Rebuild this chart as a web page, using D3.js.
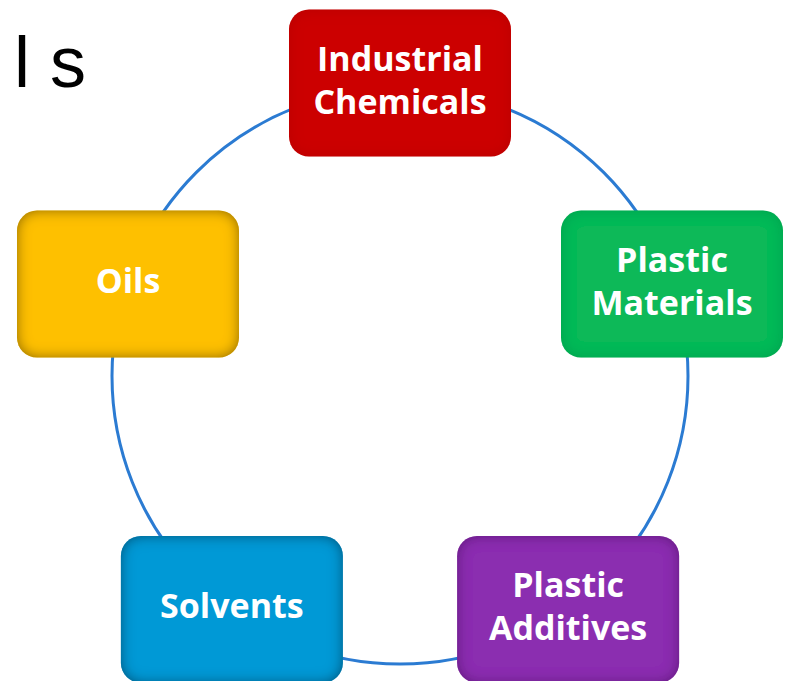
<!DOCTYPE html>
<html>
<head>
<meta charset="utf-8">
<script src="https://cdn.jsdelivr.net/npm/d3@7"></script>
<style>
  html, body { margin: 0; padding: 0; background: #ffffff; }
  svg { display: block; }
</style>
</head>
<body>
<svg id="chart" width="786" height="681"></svg>
<script>
// ---- data ----
const categories = ["Industrial Chemicals", "Plastic Materials", "Plastic Additives", "Solvents", "Oils"];
const labelLines = [["Industrial", "Chemicals"], ["Plastic", "Materials"], ["Plastic", "Additives"], ["Solvents"], ["Oils"]];
const colors = ["#cc0000", "#0bb959", "#8b2db0", "#0399d6", "#fec000"];
const edgeColors = ["#8a0000", "#077a3a", "#3e1052", "#023e5c", "#6a4e00"];
const edgeStrength = [0.35, 0.45, 0.75, 1, 1];
const titleText = "l s";

// ---- layout ----
const svg = d3.select("#chart");
const cx = 400, cy = 376, ringR = 288;
const boxCy = 374, boxRx = 286, boxRy = 291;
const boxW = 222, boxH = 147;

const angle = d3.scaleLinear().domain([0, categories.length]).range([-Math.PI / 2, 1.5 * Math.PI]);

const defs = svg.append("defs");
categories.forEach((c, i) => {
  const f = defs.append("filter").attr("id", "inner" + i)
    .attr("filterUnits", "userSpaceOnUse")
    .attr("x", -boxW).attr("y", -boxH).attr("width", boxW * 2).attr("height", boxH * 2);
  f.append("feFlood").attr("flood-color", edgeColors[i]).attr("flood-opacity", edgeStrength[i]);
  f.append("feComposite").attr("in2", "SourceAlpha").attr("operator", "out").attr("result", "outside");
  f.append("feGaussianBlur").attr("in", "outside").attr("stdDeviation", 7).attr("result", "blur");
  f.append("feComposite").attr("in", "blur").attr("in2", "SourceAlpha").attr("operator", "in").attr("result", "shadow");
  const m = f.append("feMerge");
  m.append("feMergeNode").attr("in", "SourceGraphic");
  m.append("feMergeNode").attr("in", "shadow");
});

// title fragment
svg.append("text")
  .attr("x", 14).attr("y", 87)
  .attr("font-family", "'Liberation Sans', Arial, sans-serif")
  .attr("font-size", 72)
  .attr("fill", "#000")
  .text(titleText);

// ring
svg.append("circle")
  .attr("cx", cx).attr("cy", cy).attr("r", ringR)
  .attr("fill", "none")
  .attr("stroke", "#2b7bd2")
  .attr("stroke-width", 3);

// boxes
const g = svg.selectAll("g.node").data(categories).join("g")
  .attr("class", "node")
  .attr("transform", (d, i) => {
    const a = angle(i);
    return `translate(${cx + boxRx * Math.cos(a)},${boxCy + boxRy * Math.sin(a)})`;
  });

g.append("rect")
  .attr("x", -boxW / 2).attr("y", -boxH / 2)
  .attr("width", boxW).attr("height", boxH)
  .attr("rx", 20).attr("ry", 20)
  .attr("fill", (d, i) => colors[i])
  .attr("filter", (d, i) => `url(#inner${i})`);

g.each(function(d, i) {
  const lines = labelLines[i];
  const lh = 43;
  const t = d3.select(this).append("text")
    .attr("text-anchor", "middle")
    .attr("font-family", "'Open Sans', Lato, sans-serif")
    .attr("font-weight", "bold")
    .attr("font-size", 34)
    .style("font-variant-ligatures", "none")
    .attr("fill", "#ffffff");
  lines.forEach((ln, k) => {
    t.append("tspan")
      .attr("x", 0)
      .attr("y", (k - (lines.length - 1) / 2) * lh + 9)
      .text(ln);
  });
});
</script>
</body>
</html>
